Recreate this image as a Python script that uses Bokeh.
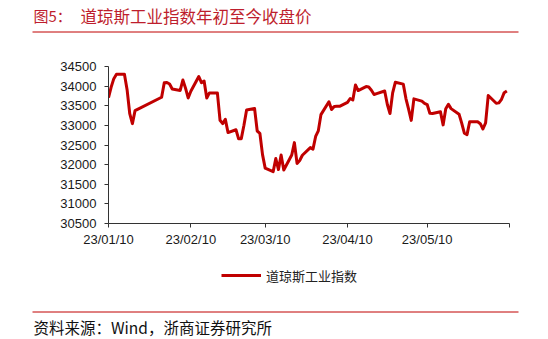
from datetime import datetime
from bokeh.plotting import figure
from bokeh.layouts import column
from bokeh.models import (Range1d, FixedTicker, DatetimeTickFormatter, Legend, LegendItem,
                          ColumnDataSource)
from bokeh.core.properties import value
from bokeh.embed import file_html
from bokeh.resources import INLINE

# ---------------- data ----------------
dates = [
    "2023-01-10", "2023-01-11", "2023-01-12", "2023-01-13", "2023-01-16", "2023-01-17", "2023-01-18", "2023-01-19", "2023-01-20",
    "2023-01-30", "2023-01-31", "2023-02-01", "2023-02-02", "2023-02-03", "2023-02-06", "2023-02-07", "2023-02-08", "2023-02-09", "2023-02-10",
    "2023-02-13", "2023-02-14", "2023-02-15", "2023-02-16", "2023-02-17", "2023-02-20", "2023-02-21", "2023-02-22", "2023-02-23", "2023-02-24",
    "2023-02-27", "2023-02-28", "2023-03-01", "2023-03-02", "2023-03-03", "2023-03-06", "2023-03-07", "2023-03-08", "2023-03-09", "2023-03-10",
    "2023-03-13", "2023-03-14", "2023-03-15", "2023-03-16", "2023-03-17", "2023-03-20", "2023-03-21", "2023-03-22", "2023-03-23", "2023-03-24",
    "2023-03-27", "2023-03-28", "2023-03-29", "2023-03-30", "2023-03-31", "2023-04-03", "2023-04-04", "2023-04-05", "2023-04-06", "2023-04-07",
    "2023-04-10", "2023-04-11", "2023-04-12", "2023-04-13", "2023-04-14", "2023-04-17", "2023-04-18", "2023-04-19", "2023-04-20", "2023-04-21",
    "2023-04-24", "2023-04-25", "2023-04-26", "2023-04-27", "2023-04-28", "2023-05-01", "2023-05-02", "2023-05-03", "2023-05-04", "2023-05-05",
    "2023-05-08", "2023-05-09", "2023-05-10", "2023-05-11", "2023-05-12", "2023-05-15", "2023-05-16", "2023-05-17", "2023-05-18", "2023-05-19",
    "2023-05-22", "2023-05-23", "2023-05-24", "2023-05-25", "2023-05-26", "2023-05-29", "2023-05-30", "2023-05-31", "2023-06-01", "2023-06-02",
    "2023-06-05", "2023-06-06", "2023-06-07", "2023-06-08", "2023-06-09",
]
dow_close = [
    33704, 33974, 34190, 34303, 34303, 33910, 33297, 33045, 33375,
    33717, 34086, 34093, 34054, 33926, 33891, 34156, 33949, 33699, 33870,
    34246, 34089, 34128, 33697, 33827, 33827, 33130, 33045, 33154, 32817,
    32889, 32657, 32662, 33004, 33391, 33432, 32857, 32799, 32255, 31910,
    31820, 32155, 31875, 32247, 31862, 32245, 32561, 32031, 32106, 32238,
    32433, 32395, 32718, 32860, 33274, 33601, 33403, 33483, 33486, 33486,
    33587, 33685, 33647, 34030, 33887, 33988, 33977, 33897, 33787, 33809,
    33876, 33531, 33302, 33827, 34098, 34051, 33684, 33415, 33128, 33675,
    33619, 33562, 33531, 33309, 33301, 33349, 33012, 33421, 33536, 33427,
    33286, 33056, 32800, 32765, 33093, 33093, 33043, 32908, 33061, 33762,
    33563, 33573, 33665, 33833, 33876,
]
series_name = "道琼斯工业指数"
x_tick_dates = ["2023-01-10", "2023-02-10", "2023-03-10", "2023-04-10", "2023-05-10"]
x_end_date = "2023-06-10"
y_ticks = [30500, 31000, 31500, 32000, 32500, 33000, 33500, 34000, 34500]
title_prefix = "图5："
title_text = "道琼斯工业指数年初至今收盘价"
source_text = "资料来源：Wind，浙商证券研究所"

RED = "#C00000"
TITLE_RED = "#BE1E2D"
CJK = "Noto Sans CJK SC"
LATIN = "Liberation Sans"


def to_dt(s):
    return datetime.strptime(s, "%Y-%m-%d")


def ms(s):
    return (to_dt(s) - datetime(1970, 1, 1)).total_seconds() * 1000.0


def no_align(fig):
    try:
        fig.frame_align = False
    except Exception:
        pass


W = 548
TOP_H = 36
MAIN_H = 224
BOT_H = 339 - TOP_H - MAIN_H   # 79

# ---------------- top strip (title) ----------------
top = figure(width=W, height=TOP_H, x_range=Range1d(0, W), y_range=Range1d(TOP_H, 0),
             x_axis_type=None, y_axis_type=None, toolbar_location=None,
             output_backend="svg", min_border=0, outline_line_color=None)
no_align(top)
top.text(x=[33], y=[15], text=[title_prefix], text_font=value(CJK),
         text_font_size=value("15px"), text_color=TITLE_RED, text_baseline="middle")
top.text(x=[80], y=[15], text=[title_text], text_font=value(CJK),
         text_font_size=value("16.5px"), text_color=TITLE_RED, text_baseline="middle")
top.segment(x0=[32], y0=[31.5], x1=[518], y1=[31.5], line_color=RED, line_width=1)

# ---------------- main chart ----------------
src = ColumnDataSource(dict(x=[to_dt(d) for d in dates], y=dow_close))
p = figure(width=W, height=MAIN_H, x_axis_type="datetime",
           x_range=Range1d(to_dt(x_tick_dates[0]), to_dt(x_end_date)),
           y_range=Range1d(y_ticks[0], y_ticks[-1]),
           toolbar_location=None, output_backend="svg",
           min_border_left=108, min_border_right=39, min_border_top=30, min_border_bottom=37,
           outline_line_color=None, background_fill_color="white")
no_align(p)
p.xgrid.visible = False
p.ygrid.visible = False

r = p.line("x", "y", source=src, line_color=RED, line_width=3, line_join="round")

xa = p.xaxis[0]
xa.ticker = FixedTicker(ticks=[ms(d) for d in x_tick_dates], minor_ticks=[ms(x_end_date)])
fmt = "%y/%m/%d"
xa.formatter = DatetimeTickFormatter(milliseconds=fmt, seconds=fmt, minsec=fmt, minutes=fmt,
                                     hourmin=fmt, hours=fmt, days=fmt, months=fmt, years=fmt)
ya = p.yaxis[0]
ya.ticker = FixedTicker(ticks=y_ticks)

for ax in (xa, ya):
    ax.axis_line_color = "#333333"
    ax.axis_line_width = 1
    ax.major_tick_line_color = "#333333"
    ax.major_tick_out = 4
    ax.major_tick_in = 0
    ax.minor_tick_line_color = None
    ax.major_label_text_font = LATIN
    ax.major_label_text_font_size = "13px"
    ax.major_label_text_color = "#1a1a1a"
xa.minor_tick_line_color = "#333333"
xa.minor_tick_out = 4
xa.minor_tick_in = 0
xa.major_label_standoff = 4
ya.major_label_standoff = 8

# ---------------- bottom strip (legend + source) ----------------
bot = figure(width=W, height=BOT_H, x_range=Range1d(0, W), y_range=Range1d(BOT_H, 0),
             x_axis_type=None, y_axis_type=None, toolbar_location=None,
             output_backend="svg", min_border=0, outline_line_color=None)
no_align(bot)
# legend swatch renderer: same style as the series line; its own points lie outside the view
swatch = bot.line(x=[-50, -40], y=[-50, -50], line_color=RED, line_width=3)
legend = Legend(items=[LegendItem(label=series_name, renderers=[swatch])],
                location=(221, 79 - 25), orientation="horizontal",
                glyph_width=40, glyph_height=20, label_height=20, label_standoff=5,
                padding=0, spacing=0, margin=0,
                border_line_color=None, background_fill_alpha=0,
                label_text_font=CJK, label_text_font_size="13px", label_text_color="#222222")
bot.add_layout(legend)
bot.segment(x0=[32], y0=[51.5], x1=[518], y1=[51.5], line_color=RED, line_width=1)
bot.text(x=[33], y=[66.5], text=[source_text], text_font=value(CJK),
         text_font_size=value("15.5px"), text_color="#111111", text_baseline="middle")

layout = column(top, p, bot, spacing=0)
open("out.html", "w").write(file_html(layout, INLINE))
